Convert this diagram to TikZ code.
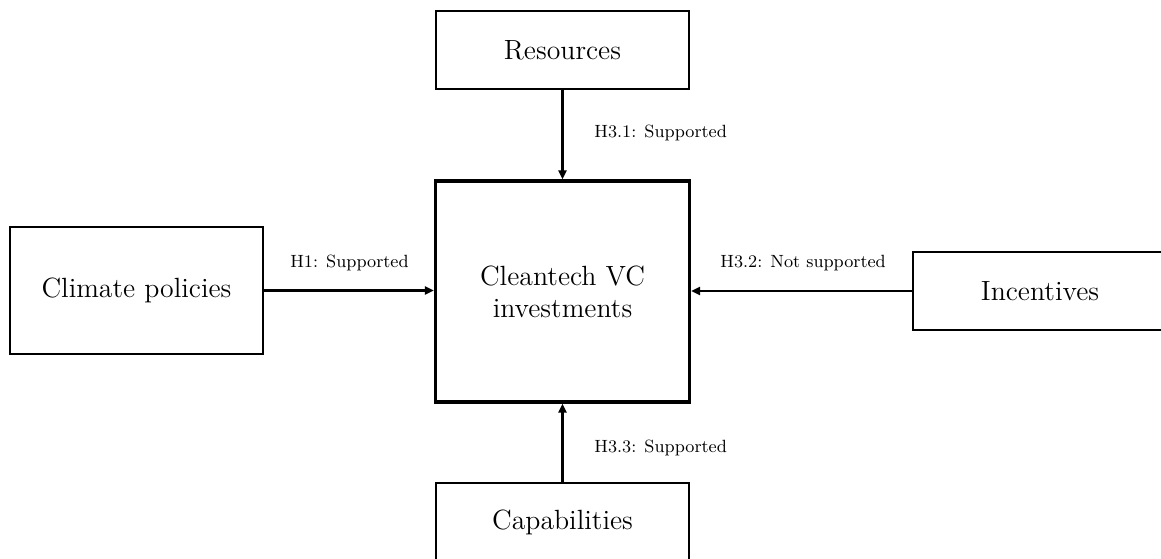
\documentclass[tikz,border=0pt]{standalone}
\usetikzlibrary{arrows.meta}
\begin{document}
\begin{tikzpicture}[x=0.5pt,y=-0.5pt,
  box/.style={draw,line width=0.85pt,inner sep=0pt,align=center,font=\fontsize{13.9}{16}\selectfont},
  mainbox/.style={draw,line width=1.6pt,inner sep=0pt,align=center,font=\fontsize{13.9}{16}\selectfont},
  lab/.style={inner sep=0pt,font=\fontsize{8.85}{11}\selectfont},
  conn/.style={line width=1.05pt,-{Triangle[length=4.5pt,width=4pt]}}]
\useasboundingbox (0,0) rectangle (1161,558);
\node[mainbox,minimum width=127pt,minimum height=110.5pt] (c) at (562.5,291.5) {Cleantech VC\\investments};
\node[box,minimum width=126.5pt,minimum height=39pt] (r) at (562.5,50) {Resources};
\node[box,minimum width=126.5pt,minimum height=63.5pt] (cp) at (136.5,290.5) {Climate policies};
\node[box,minimum width=127pt,minimum height=39pt] (inc) at (1040,291) {Incentives};
\node[box,minimum width=126.5pt,minimum height=39pt] (cap) at (562.5,522) {Capabilities};
\draw[conn] (r.south) -- (c.north);
\draw[conn] (cp.east) -- (cp.east -| c.west);
\draw[conn] (inc.west) -- (inc.west -| c.east);
\draw[conn] (cap.north) -- (c.south);
\node[lab,anchor=west] (l31) at (594,133) {H3.1: Supported};
\node[lab] (l1) at (349.5,263) {H1: Supported};
\node[lab,anchor=west] (l32) at (720,263) {H3.2: Not supported};
\node[lab,anchor=west] (l33) at (594,448) {H3.3: Supported};
\end{tikzpicture}
\end{document}
